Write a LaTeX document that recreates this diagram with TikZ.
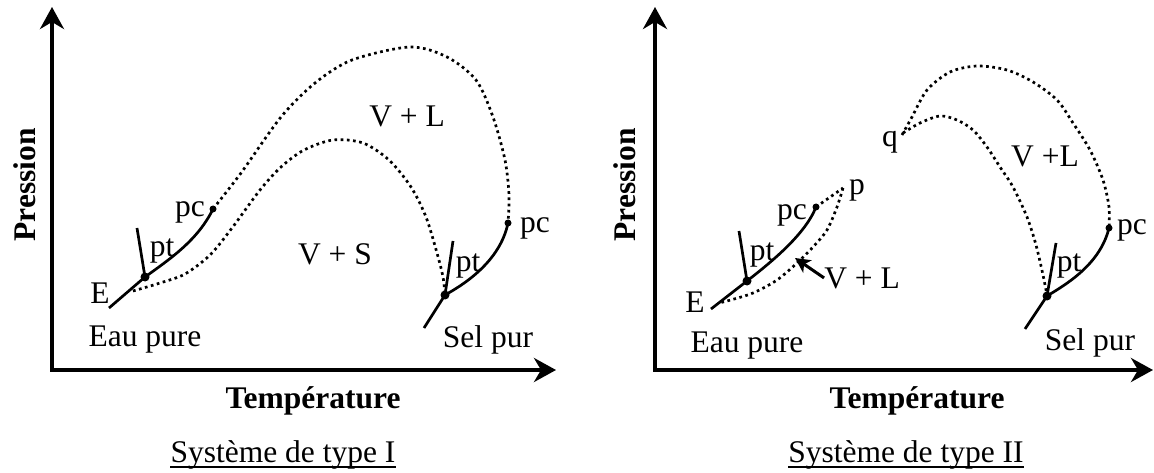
\documentclass[tikz,border=0pt]{standalone}
\usepackage{fontspec}
\setmainfont{Liberation Serif}
\usetikzlibrary{arrows.meta}
\begin{document}
\begin{tikzpicture}[x=1pt,y=-1pt,
  lbl/.style={inner sep=0pt,anchor=base,font=\fontsize{31.5}{36}\selectfont},
  boldlbl/.style={inner sep=0pt,anchor=base,font=\fontsize{31.5}{36}\selectfont\bfseries},
  axis/.style={line width=4pt,{Stealth[length=22pt,width=24pt,inset=7pt]}-{Stealth[length=22pt,width=24pt,inset=7pt]}},
  solidc/.style={line width=2.7pt},
  dotc/.style={line width=2.7pt,dash pattern=on 2.7pt off 3.5pt},
  ptdot/.style={circle,fill,inner sep=0pt,minimum size=9pt},
  pcdot/.style={circle,fill,inner sep=0pt,minimum size=7pt},
  arr/.style={line width=3pt,-{Stealth[length=15pt,width=15pt,inset=4pt]}},
  uline/.style={line width=1.8pt}
]
\useasboundingbox (0,0) rectangle (1154,473);

% ---------- Left panel ----------
\coordinate (yt1) at (52,7);
\coordinate (o1) at (52,370);
\coordinate (xt1) at (556,370);
\draw[axis] (yt1) -- (o1) -- (xt1);

\node[ptdot] (ptA) at (145,277) {};
\node[pcdot] (pcA) at (213,209) {};
\coordinate (eA) at (109,308);
\coordinate (tkA) at (137,228);
\draw[solidc] (eA) -- (ptA.center) .. controls (170,259) and (198,240) .. (pcA.center);
\draw[solidc] (ptA.center) -- (tkA);

\node[ptdot] (ptB) at (445,295) {};
\node[pcdot] (pcB) at (508,223) {};
\coordinate (eB) at (424,328);
\coordinate (tkB) at (453,241);
\draw[solidc] (eB) -- (ptB.center) .. controls (463,285) and (500,262) .. (pcB.center);
\draw[solidc] (ptB.center) -- (tkB);

\draw[dotc] plot[smooth] coordinates {(213,209) (241,173) (281,117) (315,83) (352,60) (410,47) (447,57) (476,80) (493,117) (505,160) (509,195) (508,223)};
\draw[dotc] plot[smooth] coordinates {(133,291) (160,283) (185,274) (210,255) (232,228) (260,190) (281,167) (304,150) (333,140) (363,143) (389,160) (411,187) (426,217) (437,253) (443,277) (445,295)};

\node[lbl] (lE1) at (100,303) {E};
\node[lbl] (lpt1) at (162,257) {pt};
\node[lbl] (lpc1) at (190,217) {pc};
\node[lbl] (lpt2) at (468,272) {pt};
\node[lbl] (lpc2) at (535,233) {pc};
\node[lbl] (eau1) at (145,346) {Eau pure};
\node[lbl] (sel1) at (488,347) {Sel pur};
\node[lbl] (vl1) at (407,127) {V + L};
\node[lbl] (vs1) at (335,265) {V + S};
\node[boldlbl] (temp1) at (313,408) {Température};
\node[lbl] (sys1) at (283,462) {Système de type I};
\draw[uline] ([yshift=-5pt]sys1.base west) -- ([yshift=-5pt]sys1.base east);
\node[boldlbl,rotate=90] (pres1) at (35,185) {Pression};

% ---------- Right panel ----------
\coordinate (yt2) at (655,7);
\coordinate (o2) at (655,370);
\coordinate (xt2) at (1153,370);
\draw[axis] (yt2) -- (o2) -- (xt2);

\node[ptdot] (ptC) at (747,281) {};
\node[pcdot] (pcC) at (816,207) {};
\coordinate (eC) at (711,309);
\coordinate (tkC) at (739,231);
\draw[solidc] (eC) -- (ptC.center) .. controls (770,263) and (805,235) .. (pcC.center);
\draw[solidc] (ptC.center) -- (tkC);

\coordinate (pC) at (843,188);
\draw[dotc] (pcC.center) -- (pC);
\draw[dotc] plot[smooth] coordinates {(843,188) (837,207) (827,230) (813,247) (797,263) (777,280) (753,293) (727,301) (718,303)};

\node[ptdot] (ptD) at (1047,296) {};
\node[pcdot] (pcD) at (1109,228) {};
\coordinate (eD) at (1025,329);
\coordinate (tkD) at (1056,243);
\draw[solidc] (eD) -- (ptD.center) .. controls (1065,285) and (1100,265) .. (pcD.center);
\draw[solidc] (ptD.center) -- (tkD);

\draw[dotc] plot[smooth] coordinates {(902,135) (912,117) (927,90) (950,72) (977,66) (1007,70) (1033,82) (1057,100) (1073,123) (1090,150) (1103,180) (1109,207) (1109,228)};
\draw[dotc] plot[smooth] coordinates {(903,133) (920,123) (940,116) (957,120) (973,130) (987,147) (1000,167) (1013,187) (1027,217) (1036,245) (1043,275) (1047,295)};

\node[lbl] (lE2) at (695,312) {E};
\node[lbl] (lpt3) at (762,260) {pt};
\node[lbl] (lpc3) at (792,220) {pc};
\node[lbl] (lp) at (857,195) {p};
\node[lbl] (vl2) at (862,288) {V + L};
\coordinate (arT) at (795,258);
\draw[arr] (vl2.west) -- (arT);
\node[lbl] (lq) at (890,147) {q};
\node[lbl] (vl3) at (1045,167) {V +L};
\node[lbl] (lpt4) at (1069,272) {pt};
\node[lbl] (lpc4) at (1132,235) {pc};
\node[lbl] (eau2) at (747,352) {Eau pure};
\node[lbl] (sel2) at (1090,350) {Sel pur};
\node[boldlbl] (temp2) at (917,408) {Température};
\node[lbl] (sys2) at (906,462) {Système de type II};
\draw[uline] ([yshift=-5pt]sys2.base west) -- ([yshift=-5pt]sys2.base east);
\node[boldlbl,rotate=90] (pres2) at (635,185) {Pression};
\end{tikzpicture}
\end{document}
